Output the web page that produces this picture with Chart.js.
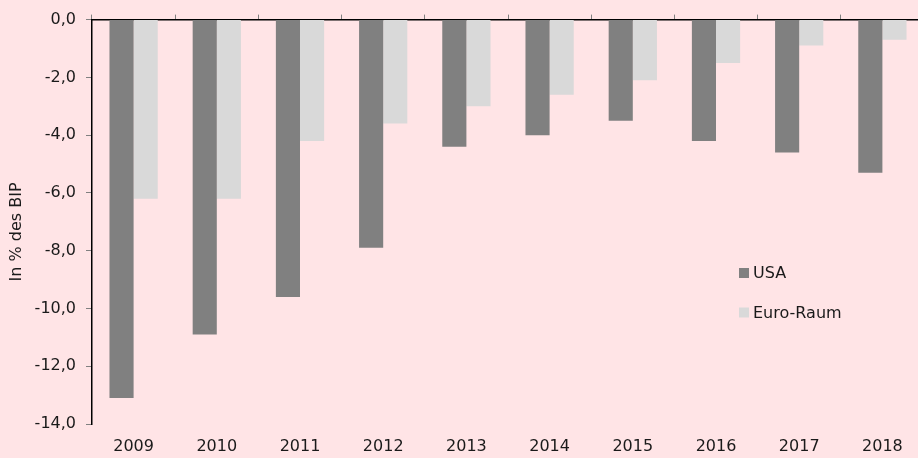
<!DOCTYPE html>
<html><head><meta charset="utf-8">
<script src="https://cdn.jsdelivr.net/npm/chart.js@4/dist/chart.umd.min.js"></script>
<style>
html,body{margin:0;padding:0;background:#FFE4E6;overflow:hidden;}
#wrap{width:918px;height:458px;position:relative;overflow:hidden;}
canvas{display:block;}
</style></head>
<body><div id="wrap"><canvas id="c" width="924" height="458"></canvas></div>
<script>
const categories = ["2009","2010","2011","2012","2013","2014","2015","2016","2017","2018"];
const usa = [-13.1,-10.9,-9.6,-7.9,-4.4,-4.0,-3.5,-4.2,-4.6,-5.3];
const euro = [-6.2,-6.2,-4.2,-3.6,-3.0,-2.6,-2.1,-1.5,-0.9,-0.7];
const seriesNames = ["USA","Euro-Raum"];
const yTitle = "In % des BIP";
const FONT = "'DejaVu Sans', sans-serif";

const legendPlugin = {
  id: 'innerLegend',
  afterDraw(chart){
    const ctx = chart.ctx;
    ctx.save();
    ctx.font = "16px " + FONT;
    ctx.textBaseline = 'middle';
    chart.data.datasets.forEach((ds,i)=>{
      const y = 273 + i*39.5;
      ctx.fillStyle = ds.backgroundColor;
      ctx.fillRect(739, y-5, 10, 10);
      ctx.fillStyle = '#1a1a1a';
      ctx.fillText(ds.label, 753, y+1);
    });
    ctx.restore();
  }
};

new Chart(document.getElementById('c'), {
  type: 'bar',
  data: {
    labels: categories,
    datasets: [
      {label: seriesNames[0], data: usa, backgroundColor: '#808080', xAxisID: 'x'},
      {label: seriesNames[1], data: euro, backgroundColor: '#D9D9D9', xAxisID: 'x'}
    ]
  },
  options: {
    responsive: false,
    animation: false,
    events: [],
    layout: {padding: {left: 7, right: 0, top: 12, bottom: 0}},
    datasets: {bar: {categoryPercentage: 0.58, barPercentage: 1.0}},
    plugins: {legend: {display: false}, tooltip: {enabled: false}},
    scales: {
      x: {
        position: 'bottom',
        grid: {display: false, drawTicks: false},
        border: {display: false},
        ticks: {color: '#1a1a1a', font: {family: FONT, size: 16}, padding: 13},
        afterFit(scale){ scale.height = 34; }
      },
      x2: {
        type: 'category',
        labels: categories,
        position: 'top',
        offset: true,
        grid: {offset: true, drawOnChartArea: false, tickLength: 5, color: '#808080'},
        border: {display: true, color: '#000', width: 1.5},
        ticks: {display: false}
      },
      y: {
        min: -14, max: 0,
        ticks: {stepSize: 2, color: '#1a1a1a', font: {family: FONT, size: 16}, padding: 10,
          callback: v => v.toFixed(1).replace('.', ',')},
        grid: {drawOnChartArea: false, tickLength: 6, color: '#808080'},
        border: {display: true, color: '#000', width: 1.5},
        title: {display: true, text: yTitle + "    ", color: '#1a1a1a', font: {family: FONT, size: 16}, padding: {top: 0, bottom: 0}},
        afterFit(scale){ scale.width = 85; }
      }
    }
  },
  plugins: [legendPlugin]
});
</script></body></html>
